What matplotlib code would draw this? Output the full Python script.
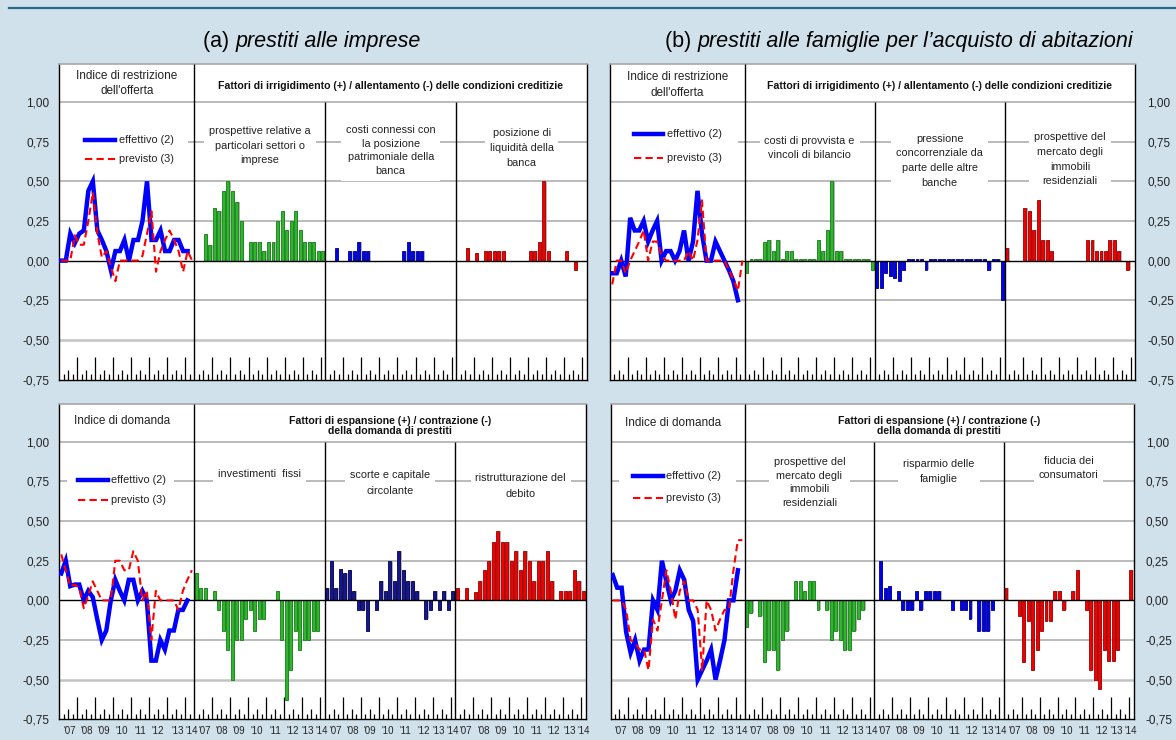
import matplotlib
matplotlib.use('Agg')
import matplotlib.pyplot as plt
from matplotlib.patches import Rectangle

plt.rcParams['font.family'] = ['Liberation Sans', 'DejaVu Sans']

# ---------------- data (quarters 2007Q1 ... 2014Q2) ----------------
years = ["'07", "'08", "'09", "'10", "'11", "'12", "'13", "'14"]

# (a) imprese - offerta
a_off_eff = [0, 0, 0.17, 0.11, 0.17, 0.19, 0.44, 0.50, 0.19, 0.13, 0.06, -0.06, 0.06, 0.06,
             0.13, 0.00, 0.13, 0.13, 0.25, 0.50, 0.13, 0.13, 0.19, 0.06, 0.06, 0.13, 0.13, 0.06, 0.06]
a_off_prev = [0, 0, 0, 0.16, 0.10, 0.10, 0.25, 0.43, 0.17, 0.02, 0.06, -0.04, -0.13, 0, 0,
              0, 0, 0, 0.03, 0.17, 0.31, -0.07, 0.06, 0.13, 0.19, 0.13, 0.06, -0.07, 0.06, 0.0]
a_off_settori = [0, 0, 0.17, 0.10, 0.33, 0.31, 0.44, 0.50, 0.44, 0.37, 0.25, 0, 0.12, 0.12,
                 0.12, 0.06, 0.12, 0.12, 0.25, 0.31, 0.19, 0.25, 0.31, 0.19, 0.12, 0.12, 0.12, 0.06, 0.06]
a_off_patrim = [0, 0, 0.08, 0, 0, 0.06, 0.06, 0.12, 0.06, 0.06, 0, 0, 0, 0, 0, 0, 0, 0.06,
                0.12, 0.06, 0.06, 0.06, 0, 0, 0, 0, 0, 0, 0]
a_off_liquid = [0, 0, 0.08, 0, 0.05, 0, 0.06, 0.06, 0.06, 0.06, 0.06, 0, 0, 0, 0, 0, 0.06,
                0.06, 0.12, 0.50, 0.06, 0, 0, 0, 0.06, 0, -0.06, 0, 0]

# (a) imprese - domanda
a_dom_eff = [0.17, 0.25, 0.09, 0.10, 0.10, 0.00, 0.06, 0.02, -0.12, -0.25, -0.19, 0.00, 0.13,
             0.06, 0.00, 0.13, 0.13, 0.00, 0.06, 0.00, -0.38, -0.38, -0.25, -0.31, -0.19, -0.19,
             -0.06, -0.06, 0.00]
a_dom_prev = [0.29, 0.19, 0.09, 0.10, 0.08, -0.05, 0.03, 0.12, 0.06, 0.00, 0.00, 0.00, 0.25,
              0.25, 0.19, 0.19, 0.31, 0.25, 0.00, 0.06, -0.25, 0.06, 0.00, 0.00, 0.00, 0.00,
              -0.06, 0.06, 0.13, 0.19]
a_dom_invest = [0.17, 0.08, 0.08, 0, 0.06, -0.06, -0.19, -0.31, -0.50, -0.25, -0.25, -0.12,
                -0.06, -0.19, -0.12, -0.12, 0, 0, 0.06, -0.25, -0.63, -0.44, -0.19, -0.31, -0.25,
                -0.25, -0.19, -0.19, 0]
a_dom_scorte = [0.08, 0.25, 0.08, 0.20, 0.17, 0.19, 0.06, -0.06, -0.06, -0.19, 0, -0.06, 0.12,
                0.06, 0.25, 0.12, 0.31, 0.19, 0.12, 0.12, 0.06, 0, -0.12, -0.06, 0.06, -0.06,
                0.06, -0.06, 0.06]
a_dom_debito = [0.08, 0, 0.08, 0, 0.05, 0.12, 0.19, 0.25, 0.37, 0.44, 0.37, 0.37, 0.25, 0.31,
                0.19, 0.31, 0.25, 0.12, 0.25, 0.25, 0.31, 0.12, 0, 0.06, 0.06, 0.06, 0.19, 0.12, 0.06]

# (b) famiglie - offerta
b_off_eff = [-0.08, -0.08, 0.0, -0.10, 0.27, 0.19, 0.19, 0.25, 0.12, 0.19, 0.25, 0.00, 0.06,
             0.06, 0.00, 0.06, 0.19, 0.00, 0.12, 0.44, 0.17, 0.00, 0.00, 0.12, 0.06, 0.00,
             -0.06, -0.13, -0.25]
b_off_prev = [-0.15, 0.0, 0.0, -0.08, 0.0, 0.06, 0.12, 0.19, 0.0, 0.12, 0.12, 0.03, 0.0, 0.0,
              0.0, 0.0, 0.0, 0.06, 0.0, 0.13, 0.38, 0.0, 0.0, 0.0, 0.0, 0.0, -0.06, -0.12,
              -0.19, 0.0]
b_off_provvista = [-0.08, 0.01, 0.01, 0.01, 0.12, 0.13, 0.06, 0.13, 0.01, 0.06, 0.06, 0.01,
                   0.01, 0.01, 0.01, 0.01, 0.13, 0.06, 0.19, 0.50, 0.06, 0.06, 0.01, 0.01,
                   0.01, 0.01, 0.01, 0.01, -0.06]
b_off_concorr = [-0.17, -0.17, -0.08, -0.10, -0.11, -0.13, -0.06, 0.01, 0.01, 0.01, 0.01,
                 -0.06, 0.01, 0.01, 0.01, 0.01, 0.01, 0.01, 0.01, 0.01, 0.01, 0.01, 0.01,
                 0.01, 0.01, -0.06, 0.01, 0.01, -0.25]
b_off_immob = [0.08, 0, 0, 0, 0.33, 0.31, 0.19, 0.38, 0.13, 0.13, 0.06, 0, 0, 0, 0, 0, 0, 0,
               0.13, 0.13, 0.06, 0.06, 0.06, 0.13, 0.13, 0.06, 0, -0.06, 0]

# (b) famiglie - domanda
b_dom_eff = [0.16, 0.08, 0.08, -0.20, -0.33, -0.25, -0.38, -0.31, -0.31, 0.00, -0.06, 0.25,
             0.12, 0.00, 0.06, 0.19, 0.13, -0.06, -0.13, -0.50, -0.44, -0.38, -0.31, -0.50,
             -0.38, -0.25, 0.00, 0.00, 0.19]
b_dom_prev = [0, 0, 0, -0.06, -0.25, -0.27, -0.31, -0.31, -0.44, -0.12, -0.19, 0.00, 0.19,
              0.06, -0.12, 0.06, 0.12, 0, 0, -0.06, -0.44, 0, -0.06, -0.19, -0.12, -0.06,
              -0.06, 0.19, 0.38, 0.38]
b_dom_immob = [-0.17, -0.08, 0, -0.10, -0.39, -0.31, -0.31, -0.44, -0.25, -0.19, 0, 0.12,
               0.12, 0.06, 0.12, 0.12, -0.06, 0, -0.06, -0.25, -0.19, -0.25, -0.31, -0.31,
               -0.19, -0.12, -0.06, 0, 0]
b_dom_risparmio = [0, 0.25, 0.08, 0.09, 0, 0.06, -0.06, -0.06, -0.06, 0.06, -0.06, 0.06, 0.06,
                   0.06, 0.06, 0, 0, -0.06, 0, -0.06, -0.06, -0.12, 0, -0.19, -0.19, -0.19,
                   -0.06, 0, 0]
b_dom_fiducia = [0.08, 0, 0, -0.10, -0.39, -0.13, -0.44, -0.31, -0.19, -0.13, -0.13, 0.06,
                 0.06, -0.06, 0, 0.06, 0.19, 0, -0.06, -0.44, -0.50, -0.56, -0.31, -0.38,
                 -0.38, -0.31, 0, 0, 0.19]

yticks = [-0.75, -0.50, -0.25, 0.0, 0.25, 0.50, 0.75, 1.00]

# ---------------- style ----------------
BG = '#d0e1eb'
GRID = '#b5b5b5'
SHADOW = '#b4b4b4'
GREEN = ('#2fb52f', '#138013')
BLUE = ('#0000f2', '#000088')
NAVY = ('#161692', '#000050')
RED = ('#f20000', '#9a0000')
LINE_BLUE = '#0000ff'
LINE_RED = '#ff0000'

LW = 30      # slots in line section
BW = 29      # slots in each bar section
SECS = [0, 30, 59, 88]
XMAX = 117
YMIN, YMAX = -0.75, 1.24

fig = plt.figure(figsize=(11.76, 7.40), dpi=100)
fig.patch.set_facecolor(BG)
fig.add_artist(plt.Line2D([9 / 1176, 1.0], [1 - 8 / 740, 1 - 8 / 740], color='#27698f', lw=1.6))

ty = 1 - 42 / 740
t1 = fig.text(203 / 1176, ty, '(a) ', ha='left', va='center', fontsize=15.5)
fig.canvas.draw()
r = fig.canvas.get_renderer()
w1 = t1.get_window_extent(r).width
fig.text((203 + w1) / 1176, ty, 'prestiti alle imprese', ha='left', va='center',
         fontsize=15.5, style='italic')
t2 = fig.text(665 / 1176, ty, '(b) ', ha='left', va='center', fontsize=15.5)
w2 = t2.get_window_extent(r).width
fig.text((665 + w2) / 1176, ty, "prestiti alle famiglie per l\u2019acquisto di abitazioni",
         ha='left', va='center', fontsize=15.5, style='italic')


def fmt(v):
    return ('%.2f' % v).replace('.', ',')


def draw_panel(rect, eff, prev, bars, head_line, head_bold, subs, leg, side, show_years):
    ax = fig.add_axes(rect)
    ax.set_facecolor('white')
    ax.set_xlim(0, XMAX)
    ax.set_ylim(YMIN, YMAX)
    ax.set_xticks([])
    ax.set_yticks(yticks)
    ax.set_yticklabels([fmt(v) for v in yticks], fontsize=8.5, color='#222222')
    ax.tick_params(axis='y', length=0, pad=7 if side == 'left' else 9)
    if side == 'right':
        ax.yaxis.tick_right()
    for s in ('left', 'right', 'bottom'):
        ax.spines[s].set_color('black')
        ax.spines[s].set_linewidth(1.0)
    ax.spines['top'].set_color('#a8a8a8')
    ax.spines['top'].set_linewidth(1.2)

    # grid
    for v in [-0.5, -0.25, 0.25, 0.5, 0.75, 1.0]:
        ax.axhline(v, color=GRID if v != -0.5 else '#c4c4c4', lw=1.3 if v != -0.5 else 1.8, zorder=1)
    ax.axhline(0, color='black', lw=1.0, zorder=6)
    # dividers
    ax.vlines(SECS[1], YMIN, YMAX, color='black', lw=1.0, zorder=7)
    ax.vlines(SECS[2:], YMIN, 1.0, color='black', lw=1.0, zorder=7)
    # bottom tick marks
    for s0, w in zip(SECS, [LW, BW, BW, BW]):
        for k in range(1, w):
            L = 0.139 if k % 4 == 0 else (0.063 if k % 4 == 2 else 0.032)
            ax.vlines(s0 + k, YMIN, YMIN + L, color='black', lw=0.9, zorder=2)
        if show_years:
            pos = [2.4, 6.2, 10, 14, 18, 21.9, w - 3.7, w - 0.6]
            for p, lab in zip(pos, years):
                ax.text(s0 + p, YMIN - 0.074, lab, ha='center', va='center', fontsize=7.0,
                        color='#222222', clip_on=False)

    # lines
    xe = [i + 0.5 for i in range(len(eff))]
    xp = [i + 0.5 for i in range(len(prev))]
    ax.plot(xe, eff, color=LINE_BLUE, lw=3.2, zorder=9, solid_joinstyle='miter')
    ax.plot(xp, prev, color=LINE_RED, lw=1.5, ls=(0, (3.5, 2)), zorder=10)

    # bars
    for s0, (vals, (fc, ec)) in zip(SECS[1:], bars):
        xs = [s0 + i + 0.5 for i in range(len(vals))]
        ax.bar([x + 0.28 for x in xs], vals, width=0.55, color=SHADOW, lw=0, zorder=4)
        ax.bar([x - 0.08 for x in xs], vals, width=0.66, color=fc, edgecolor=ec, lw=0.6, zorder=5)

    # header texts
    ax.text(head_line[0], head_line[1], head_line[2], ha='center', va='center', fontsize=8.5,
            color='#222222', linespacing=1.35)
    ax.text(head_bold[0], head_bold[1], head_bold[2], ha='center', va='center', fontsize=7.6,
            fontweight='bold', color='#111111', linespacing=0.95)
    for x, y, t, lsp in subs:
        ax.text(x, y, t, ha='center', va='center', fontsize=7.8, color='#222222',
                linespacing=lsp, zorder=3,
                bbox=dict(boxstyle='square,pad=0.45', fc='white', ec='none'))
    # legend
    lx0, lx1, ye, yp, bx0, bx1 = leg
    ax.add_patch(Rectangle((bx0, yp - 0.07), bx1 - bx0, ye - yp + 0.14, fc='white', ec='none', zorder=2))
    ax.plot([lx0, lx1], [ye, ye], color=LINE_BLUE, lw=3.2, zorder=9)
    ax.plot([lx0, lx1], [yp, yp], color=LINE_RED, lw=1.5, ls=(0, (3.5, 2)), zorder=10)
    ax.text(lx1 + 0.8, ye, 'effettivo (2)', ha='left', va='center', fontsize=7.8, color='#222222')
    ax.text(lx1 + 0.8, yp, 'previsto (3)', ha='left', va='center', fontsize=7.8, color='#222222')
    return ax


H = 315.5 / 740
# top-left
draw_panel([59 / 1176, (740 - 379.5) / 740, 528 / 1176, H],
           a_off_eff, a_off_prev,
           [(a_off_settori, GREEN), (a_off_patrim, BLUE), (a_off_liquid, RED)],
           (15, 1.118, "Indice di restrizione\ndell'offerta"),
           (73.5, 1.103, 'Fattori di irrigidimento (+) / allentamento (-) delle condizioni creditizie'),
           [(44.5, 0.725, 'prospettive relative a\nparticolari settori o\nimprese', 1.6),
            (73.5, 0.695, 'costi connessi con\nla posizione\npatrimoniale della\nbanca', 1.45),
            (102.5, 0.712, 'posizione di\nliquidit\u00e0 della\nbanca', 1.6)],
           (5.8, 12.4, 0.76, 0.64, 0.3, 28.6), 'left', False)

# top-right
draw_panel([610 / 1176, (740 - 379.5) / 740, 525 / 1176, H],
           b_off_eff, b_off_prev,
           [(b_off_provvista, GREEN), (b_off_concorr, BLUE), (b_off_immob, RED)],
           (15, 1.108, "Indice di restrizione\ndell'offerta"),
           (73.5, 1.103, 'Fattori di irrigidimento (+) / allentamento (-) delle condizioni creditizie'),
           [(44.5, 0.71, 'costi di provvista e\nvincoli di bilancio', 1.6),
            (73.5, 0.63, 'pressione\nconcorrenziale da\nparte delle altre\nbanche', 1.6),
            (102.5, 0.64, 'prospettive del\nmercato degli\nimmobili\nresidenziali', 1.6)],
           (5.3, 11.8, 0.797, 0.649, 0.3, 28.6), 'right', False)

# bottom-left
draw_panel([59 / 1176, (740 - 719.3) / 740, 527 / 1176, H],
           a_dom_eff, a_dom_prev,
           [(a_dom_invest, GREEN), (a_dom_scorte, NAVY), (a_dom_debito, RED)],
           (14, 1.132, 'Indice di domanda'),
           (73.5, 1.10, 'Fattori di espansione (+) / contrazione (-)\ndella domanda di prestiti'),
           [(44.5, 0.80, 'investimenti  fissi', 1.6),
            (73.5, 0.742, 'scorte e capitale\ncircolante', 1.7),
            (102.5, 0.72, 'ristrutturazione del\ndebito', 1.7)],
           (4.2, 10.8, 0.761, 0.635, 1.8, 25.5), 'left', True)

# bottom-right
draw_panel([610.5 / 1176, (740 - 719.3) / 740, 523 / 1176, H],
           b_dom_eff, b_dom_prev,
           [(b_dom_immob, GREEN), (b_dom_risparmio, BLUE), (b_dom_fiducia, RED)],
           (14, 1.118, 'Indice di domanda'),
           (73.5, 1.10, 'Fattori di espansione (+) / contrazione (-)\ndella domanda di prestiti'),
           [(44.5, 0.743, 'prospettive del\nmercato degli\nimmobili\nresidenziali', 1.45),
            (73.5, 0.812, 'risparmio delle\nfamiglie', 1.7),
            (102.5, 0.836, 'fiducia dei\nconsumatori', 1.45)],
           (5.0, 11.7, 0.784, 0.646, 1.8, 28.0), 'right', True)

fig.savefig('out.png', dpi=100, facecolor=BG)
